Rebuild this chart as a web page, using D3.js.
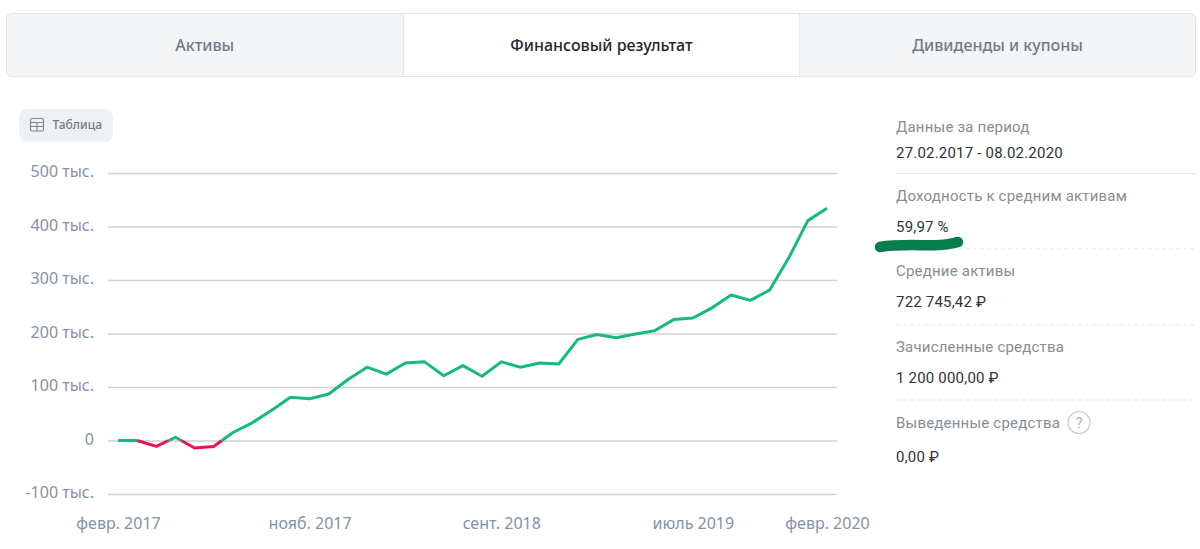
<!DOCTYPE html>
<html lang="ru">
<head>
<meta charset="utf-8">
<script src="https://cdn.jsdelivr.net/npm/d3@7"></script>
<style>
  html, body { margin: 0; background: #fff; overflow: hidden; }
  #page { position: relative; width: 1200px; height: 549px; }
  #canvas { position: absolute; left: 0; top: 0; }
  .tick-label { font-family: "Noto Sans", sans-serif; font-size: 16px; fill: #8492a6; }
  .tab { font-family: "Noto Sans", sans-serif; font-size: 16px; font-weight: 500; fill: #6f7b8a; text-anchor: middle; }
  .tab.active { fill: #22262b; }
  .info-label { font-family: Roboto, sans-serif; font-size: 15px; fill: #878d94; letter-spacing: 0.2px; }
  .info-value { font-family: Roboto, sans-serif; font-size: 15px; fill: #2f3439; letter-spacing: 0.2px; }
</style>
</head>
<body>
<div id="page"><svg id="canvas" width="1200" height="549"></svg></div>
<script>
  // Values in thousands of rubles, one point per period
  const resultValues = [
    0, 0, -11, 6, -14, -11, 15, 33, 56, 81,
    78, 87, 114, 137, 124, 145, 147, 121, 140, 120,
    147, 137, 145, 143, 189, 198, 192, 199, 205, 226,
    229, 248, 272, 262, 281, 341, 411, 434,
  ];
  const yTicks = [-100, 0, 100, 200, 300, 400, 500];
  const xTickIndexes = [0, 10, 20, 30, 37];
  const xTickLabels = ["февр. 2017", "нояб. 2017", "сент. 2018", "июль 2019", "февр. 2020"];
  const tabLabels = ["Активы", "Финансовый результат", "Дивиденды и купоны"];
  const infoLabels = ["Данные за период", "Доходность к средним активам", "Средние активы", "Зачисленные средства", "Выведенные средства"];
  const infoValues = ["27.02.2017 - 08.02.2020", "59,97 %", "722 745,42 ₽", "1 200 000,00 ₽", "0,00 ₽"];

  const svg = d3.select("#canvas");
  const GREEN = "#17b97c";
  const RED = "#f0124c";

  // --- Tabs ----------------------------------------------------------
  const tabEdges = [6, 403.5, 799.5, 1195.5];
  const tabs = svg.append("g");
  tabs.append("rect")
    .attr("x", 6.5).attr("y", 13.5).attr("width", 1189).attr("height", 63).attr("rx", 5)
    .attr("fill", "#f3f5f7").attr("stroke", "#e1e4e7");
  tabs.append("rect")
    .attr("x", tabEdges[1]).attr("y", 14).attr("width", tabEdges[2] - tabEdges[1]).attr("height", 62)
    .attr("fill", "#fff");
  [tabEdges[1], tabEdges[2]].forEach((x) => {
    tabs.append("line").attr("x1", x).attr("x2", x).attr("y1", 14).attr("y2", 76).attr("stroke", "#e6e9ec");
  });
  tabs.selectAll("text").data(tabLabels).enter().append("text")
    .attr("class", (d, i) => (i === 1 ? "tab active" : "tab"))
    .attr("x", (d, i) => (tabEdges[i] + tabEdges[i + 1]) / 2)
    .attr("y", 51)
    .text((d) => d);

  // --- Table button --------------------------------------------------
  const btn = svg.append("g");
  btn.append("rect").attr("x", 19).attr("y", 109).attr("width", 94).attr("height", 33).attr("rx", 8).attr("fill", "#edf1f4");
  const icon = btn.append("g").attr("fill", "none").attr("stroke", "#7d8791").attr("stroke-width", 1.1);
  icon.append("rect").attr("x", 30.5).attr("y", 118.5).attr("width", 13).attr("height", 12.5).attr("rx", 1.5);
  icon.append("path").attr("d", "M30.5,122.5H43.5M30.5,126.5H43.5M37,122.5V131");
  btn.append("text").attr("x", 52.5).attr("y", 128.5)
    .attr("font-family", "Noto Sans, sans-serif").attr("font-size", 12).attr("font-weight", 500)
    .attr("fill", "#717c87").text("Таблица");

  // --- Chart ---------------------------------------------------------
  const x = d3.scaleLinear().domain([0, resultValues.length - 1]).range([118, 827]);
  const y = d3.scaleLinear().domain([-100, 500]).range([494, 173]);

  const yAxis = svg.append("g").attr("transform", "translate(108,0)")
    .call(d3.axisLeft(y).tickValues(yTicks).tickSize(-729).tickPadding(14)
      .tickFormat((d) => (d === 0 ? "0" : `${d} тыс.`)));
  yAxis.select(".domain").remove();
  yAxis.selectAll("line").attr("stroke", "#cfd1d3").attr("stroke-width", 1.4);
  yAxis.selectAll("text").attr("class", "tick-label").attr("dy", "0.22em");

  const xAxis = svg.append("g").attr("transform", "translate(0,494)")
    .call(d3.axisBottom(x).tickValues(xTickIndexes).tickSize(0).tickPadding(24)
      .tickFormat((d, i) => xTickLabels[i]));
  xAxis.select(".domain").remove();
  xAxis.selectAll("text").attr("class", "tick-label").attr("dy", "0.71em");

  // Split the line where it crosses zero so each run gets its own colour
  const runs = [];
  resultValues.forEach((v, i) => {
    if (i === 0) return;
    const prev = resultValues[i - 1];
    const pieces = [];
    if (prev * v < 0) {
      const cross = i - 1 + prev / (prev - v);
      pieces.push([[i - 1, prev], [cross, 0]], [[cross, 0], [i, v]]);
    } else {
      pieces.push([[i - 1, prev], [i, v]]);
    }
    pieces.forEach((p) => {
      const negative = p[0][1] < 0 || p[1][1] < 0;
      const last = runs[runs.length - 1];
      if (last && last.negative === negative) last.points.push(p[1]);
      else runs.push({ negative, points: p.slice() });
    });
  });

  const line = d3.line().x((d) => x(d[0])).y((d) => y(d[1]));
  svg.append("g").attr("fill", "none").attr("stroke-width", 3).attr("stroke-linejoin", "round")
    .selectAll("path").data(runs).enter().append("path")
    .attr("stroke", (d) => (d.negative ? RED : GREEN))
    .attr("d", (d) => line(d.points));

  // --- Info panel ----------------------------------------------------
  const labelBase = [132, 201, 276, 352, 428];
  const valueBase = [158, 232, 307, 383, 462];
  const dividers = [173.5, 249, 325, 400];
  const panel = svg.append("g");
  panel.selectAll("line").data(dividers).enter().append("line")
    .attr("x1", 896).attr("x2", 1196).attr("y1", (d) => d).attr("y2", (d) => d)
    .attr("stroke", "#e6e7e9").attr("stroke-width", 1.2)
    .attr("stroke-dasharray", (d, i) => (i === 0 ? null : "4 3"));
  panel.selectAll(".info-label").data(infoLabels).enter().append("text")
    .attr("class", "info-label").attr("x", 896).attr("y", (d, i) => labelBase[i]).text((d) => d);
  panel.selectAll(".info-value").data(infoValues).enter().append("text")
    .attr("class", "info-value").attr("x", 896).attr("y", (d, i) => valueBase[i]).text((d) => d);

  // Help icon next to the last label
  panel.append("circle").attr("cx", 1079).attr("cy", 422.5).attr("r", 11)
    .attr("fill", "none").attr("stroke", "#c9cbcd").attr("stroke-width", 1.2);
  panel.append("text").attr("x", 1079).attr("y", 428).attr("text-anchor", "middle")
    .attr("font-family", "Roboto, sans-serif").attr("font-size", 15).attr("fill", "#b4b7ba").text("?");

  // Hand-drawn marker stroke under the yield value
  panel.append("path")
    .attr("d", "M880,247 C900,243.5 925,246 940,245 C948,244.5 953,243 958,242")
    .attr("fill", "none").attr("stroke", "#0a7d4e").attr("stroke-width", 10.5).attr("stroke-linecap", "round");
</script>
</body>
</html>
